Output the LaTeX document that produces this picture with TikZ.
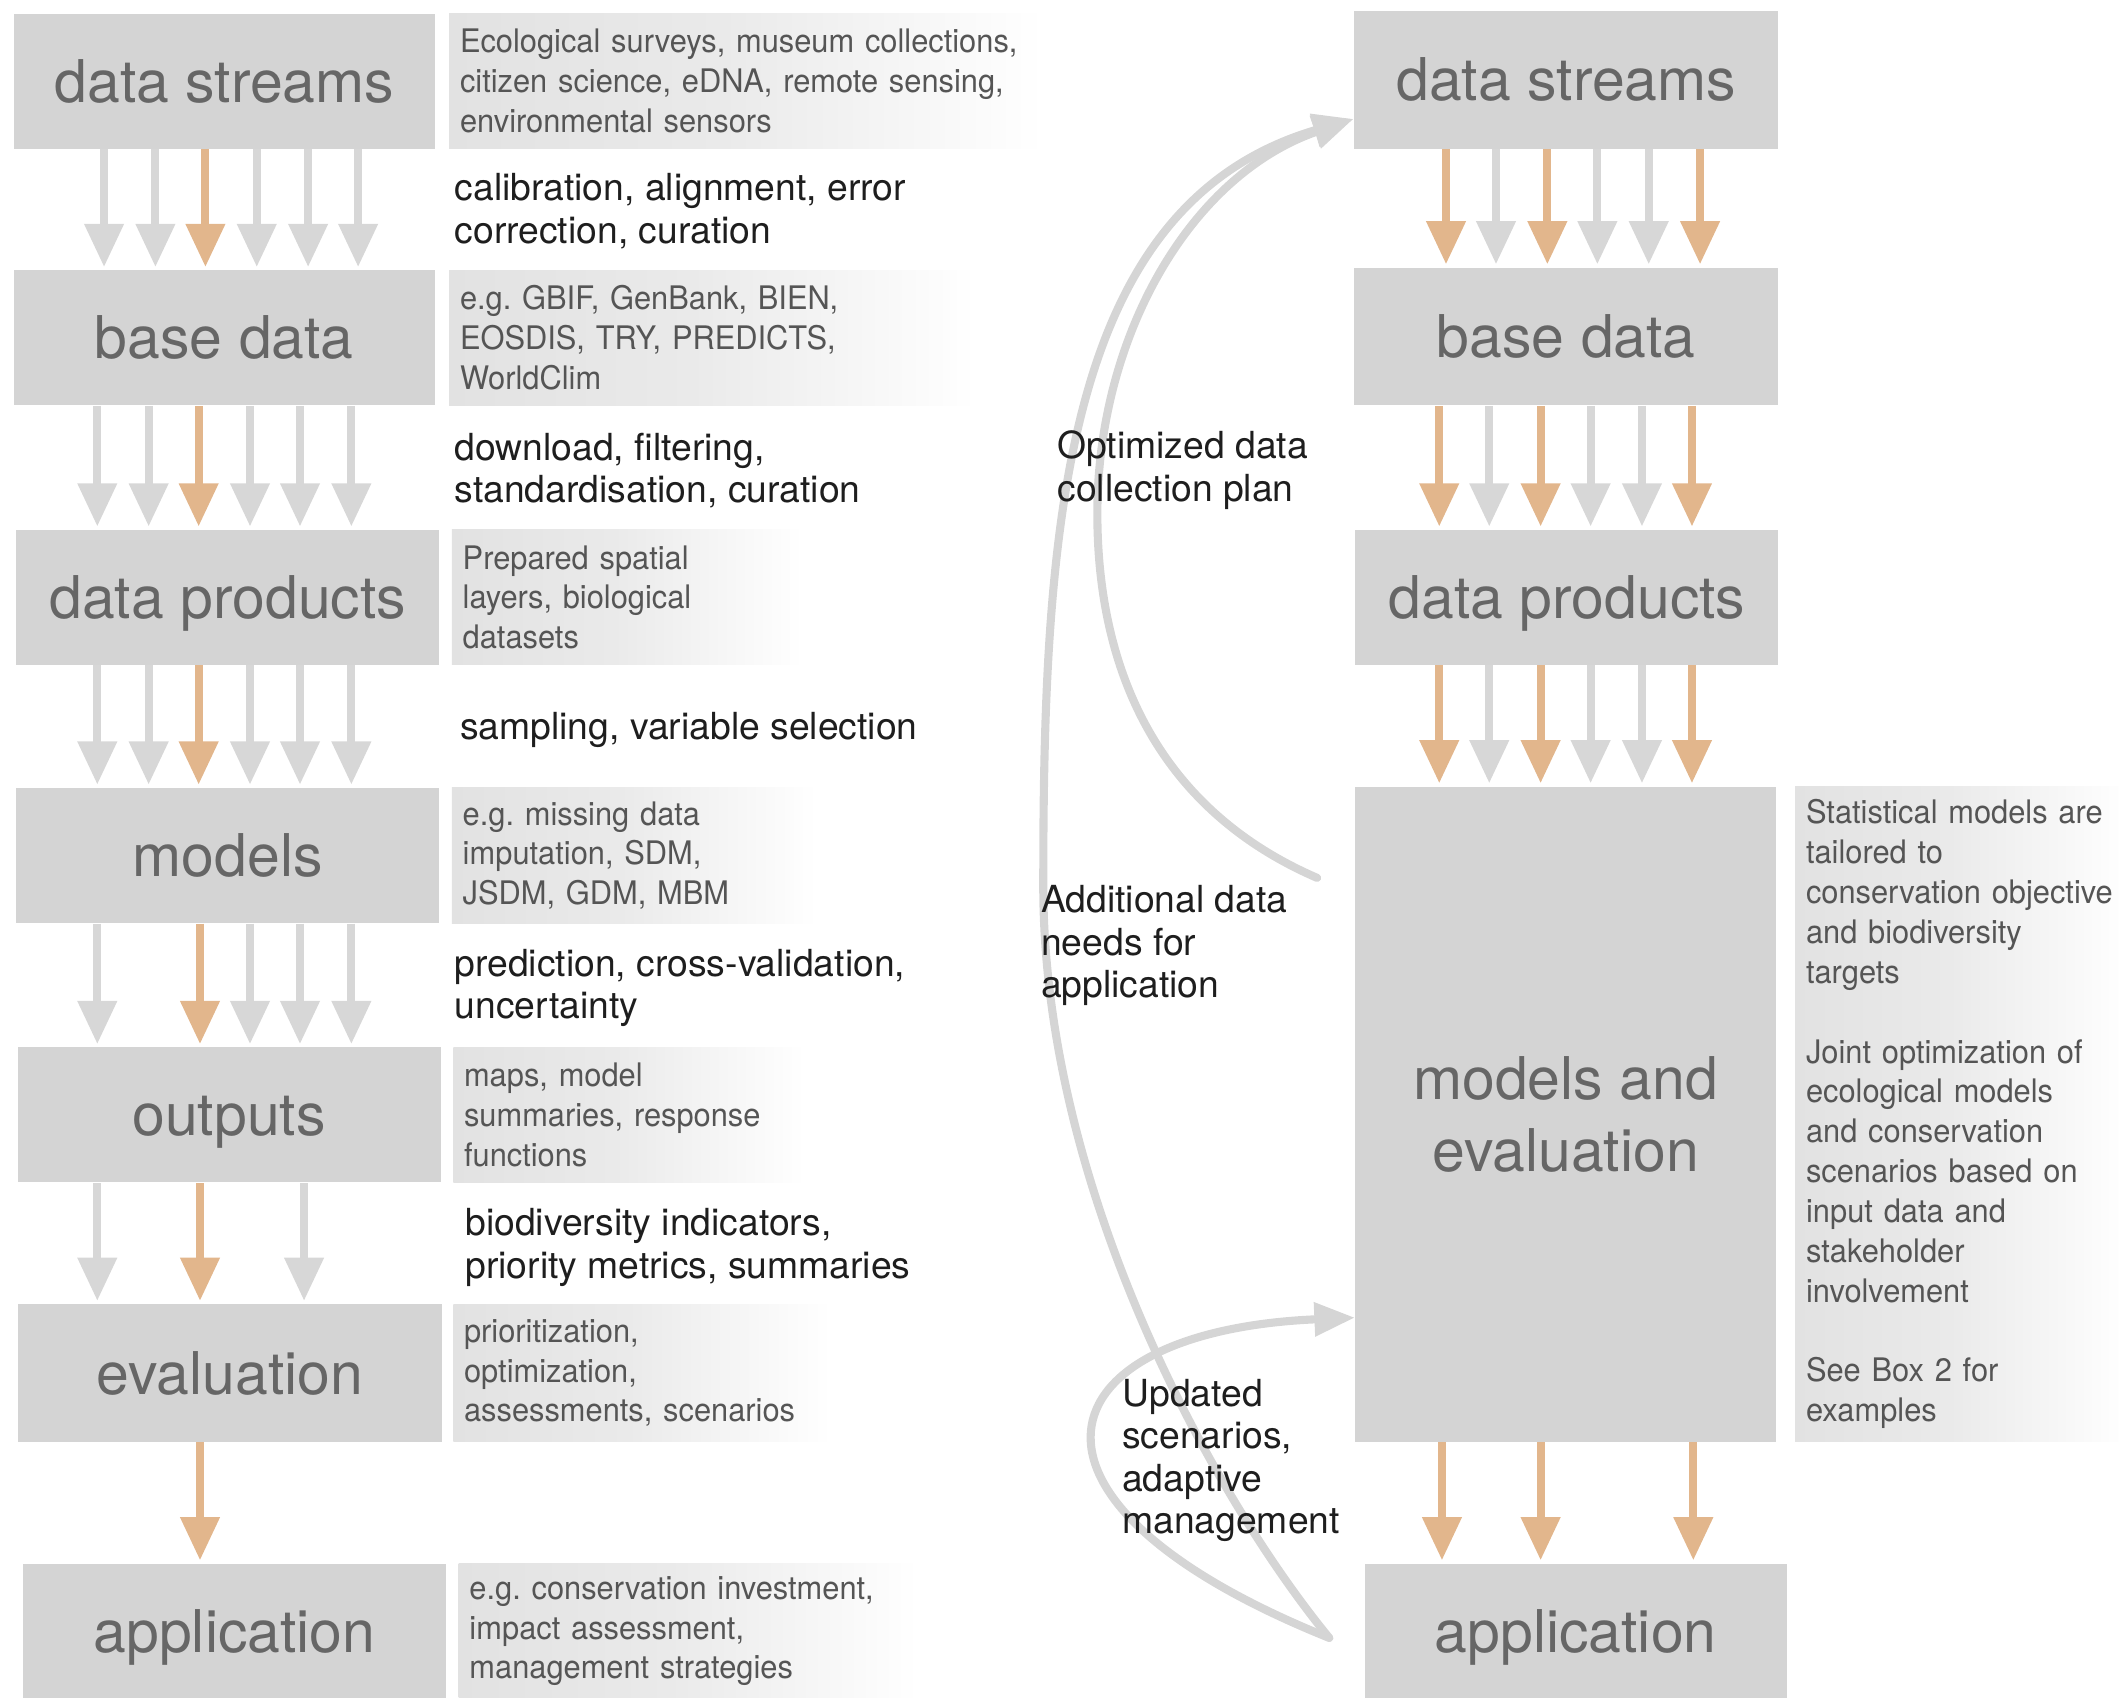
\documentclass[tikz,border=0pt]{standalone}
\usepackage{fontspec}
\setmainfont{TeX Gyre Heros}
\newfontfamily\descfont[FakeStretch=0.95]{TeX Gyre Heros}
\usetikzlibrary{arrows.meta,calc}
\definecolor{boxgray}{HTML}{D4D4D4}
\definecolor{arrgray}{HTML}{D7D7D7}
\definecolor{arrorange}{HTML}{E2B68C}
\definecolor{labelgray}{HTML}{666666}
\definecolor{descgray}{HTML}{555555}
\definecolor{fadeA}{HTML}{E2E2E2}
\definecolor{fadeB}{HTML}{EAEAEA}
\definecolor{curvegray}{HTML}{D5D5D5}
\definecolor{midblack}{HTML}{1E1E1E}
\pgfdeclarehorizontalshading{descfade}{100bp}{color(0bp)=(fadeA); color(25bp)=(fadeA); color(48bp)=(fadeB); color(75bp)=(white); color(100bp)=(white)}
\frenchspacing
\tikzset{
  box/.style={fill=boxgray, draw=none, minimum width=156pt, minimum height=50pt, inner sep=0pt,
    text=labelgray, font=\fontsize{21.8}{26.5}\selectfont},
  lbl/.style={text height=15.6pt, text depth=0pt},
  descbox/.style={shading=descfade, shade, draw=none, anchor=west, minimum height=50pt,
    inner xsep=4pt, inner ysep=2pt, align=left, text=descgray,
    font=\descfont\fontsize{12}{14.75}\selectfont\frenchspacing},
  midtext/.style={anchor=north west, inner sep=0pt, align=left, text=midblack,
    font=\fontsize{13.8}{15.75}\selectfont},
  garrow/.style={draw=arrgray, line width=3pt, shorten >=1pt, -{Triangle[length=16pt,width=14pt]}},
  oarrow/.style={draw=arrorange, line width=3pt, shorten >=1pt, -{Triangle[length=16pt,width=14pt]}},
  feedback/.style={draw=curvegray, line width=3pt, line cap=round, -{Triangle[length=15pt,width=12pt]}},
}
\begin{document}
\begin{tikzpicture}[x=0.5pt,y=-0.5pt]
\useasboundingbox (0,0) rectangle (1568,1256);

% ---------- left column boxes ----------
\node[box,lbl] (ds) at (166,60) {data streams};
\node[box,lbl] (bd) at (166,250) {base data};
\node[box,lbl,minimum width=156.5pt] (dp) at (168.5,442) {data products};
\node[box,lbl,minimum width=156.5pt] (mo) at (168.5,633) {models};
\node[box,lbl,minimum width=156.5pt] (ou) at (169.5,825) {outputs};
\node[box,lbl,minimum width=157pt,minimum height=51pt] (ev) at (170,1016) {evaluation};
\node[box,lbl,minimum width=156.5pt] (ap) at (173.5,1207) {application};

% ---------- left descriptions ----------
\node[descbox,minimum width=220pt,text width=212pt] (dsd) at (332,60)
  {Ecological surveys, museum collections,\\citizen science, eDNA, remote sensing,\\environmental sensors};
\node[descbox,minimum width=195pt,text width=187pt] (bdd) at (332,250)
  {e.g. GBIF, GenBank, BIEN,\\EOSDIS, TRY, PREDICTS,\\WorldClim};
\node[descbox,minimum width=130pt,text width=122pt] (dpd) at (334,442)
  {Prepared spatial\\layers, biological\\datasets};
\node[descbox,minimum width=135pt,text width=127pt] (mod) at (334,633)
  {e.g. missing data\\imputation, SDM,\\JSDM, GDM, MBM};
\node[descbox,minimum width=130pt,text width=122pt] (oud) at (335,825)
  {maps, model\\summaries, response\\functions};
\node[descbox,minimum width=140pt,text width=132pt,minimum height=51pt] (evd) at (335,1016)
  {prioritization,\\optimization,\\assessments, scenarios};
\node[descbox,minimum width=170pt,text width=162pt] (apd) at (339,1207)
  {e.g. conservation investment,\\impact assessment,\\management strategies};

% ---------- left arrows ----------
\foreach \x in {77,115,190,228,265} \draw[garrow] (ds.south -| \x,0) -- (bd.north -| \x,0);
\draw[oarrow] (ds.south -| 152,0) -- (bd.north -| 152,0);
\foreach \x in {72,110,185,222,260} \draw[garrow] (bd.south -| \x,0) -- (dp.north -| \x,0);
\draw[oarrow] (bd.south -| 147,0) -- (dp.north -| 147,0);
\foreach \x in {72,110,185,222,260} \draw[garrow] (dp.south -| \x,0) -- (mo.north -| \x,0);
\draw[oarrow] (dp.south -| 147,0) -- (mo.north -| 147,0);
\foreach \x in {72,185,222,260} \draw[garrow] (mo.south -| \x,0) -- (ou.north -| \x,0);
\draw[oarrow] (mo.south -| 148,0) -- (ou.north -| 148,0);
\foreach \x in {72,225} \draw[garrow] (ou.south -| \x,0) -- (ev.north -| \x,0);
\draw[oarrow] (ou.south -| 148,0) -- (ev.north -| 148,0);
\draw[oarrow] (ev.south -| 148,0) -- (ap.north -| 148,0);

% ---------- transition texts ----------
\node[midtext] (t1) at (336,126) {\strut calibration, alignment, error\\correction, curation};
\node[midtext] (t2) at (336,318) {\strut download, filtering,\\standardisation, curation};
\node[midtext] (t3) at (340,525) {\strut sampling, variable selection};
\node[midtext] (t4) at (336,700) {\strut prediction, cross-validation,\\uncertainty};
\node[midtext] (t5) at (344,892) {\strut biodiversity indicators,\\priority metrics, summaries};

% ---------- right column boxes ----------
\node[box,lbl,minimum width=157pt,minimum height=51pt] (rds) at (1159,59) {data streams};
\node[box,lbl,minimum width=157pt,minimum height=51pt] (rbd) at (1159,249) {base data};
\node[box,lbl,minimum width=156.5pt] (rdp) at (1159.5,442) {data products};
\node[box,minimum width=155.5pt,minimum height=242.5pt,align=center] (rme) at (1158.5,824.5) {models and\\evaluation};
\node[box,lbl] (rap) at (1166,1207) {application};

\node[descbox,minimum width=124pt,text width=116pt,minimum height=242.5pt] (rmd) at (1328,824.5)
  {Statistical models are\\tailored to\\conservation objective\\and biodiversity\\targets\\[14.75pt]
   Joint optimization of\\ecological models\\and conservation\\scenarios based on\\input data and\\stakeholder\\involvement\\[14.75pt]
   See Box 2 for\\examples};

% ---------- right arrows ----------
\foreach \x in {1107,1182,1220} \draw[garrow] (rds.south -| \x,0) -- (rbd.north -| \x,0);
\foreach \x in {1070,1145,1258} \draw[oarrow] (rds.south -| \x,0) -- (rbd.north -| \x,0);
\foreach \x in {1102,1177,1215} \draw[garrow] (rbd.south -| \x,0) -- (rdp.north -| \x,0);
\foreach \x in {1065,1140,1252} \draw[oarrow] (rbd.south -| \x,0) -- (rdp.north -| \x,0);
\foreach \x in {1102,1177,1215} \draw[garrow] (rdp.south -| \x,0) -- (rme.north -| \x,0);
\foreach \x in {1065,1140,1252} \draw[oarrow] (rdp.south -| \x,0) -- (rme.north -| \x,0);
\foreach \x in {1067,1140,1253} \draw[oarrow] (rme.south -| \x,0) -- (rap.north -| \x,0);

% ---------- feedback curves ----------
\coordinate (tipA) at ([yshift=-14.5pt]rds.west);
\coordinate (startA) at ([xshift=-13pt,yshift=-2.5pt]rap.west);
\coordinate (startB) at ([xshift=-14pt,yshift=-34pt]rme.north west);
\coordinate (tipC) at ([yshift=-75.25pt]rme.west);
\draw[feedback] (startA) .. controls (900,1110) and (770,880) .. (772,650)
   .. controls (772,380) and (790,150) .. (tipA);
\draw[feedback] (startB) .. controls (860,600) and (812,500) .. (812,380)
   .. controls (812,250) and (880,130) .. (tipA);
\draw[feedback] (startA) .. controls (730,1110) and (770,985) .. (tipC);

% ---------- feedback labels ----------
\node[midtext] (l1) at (782,317) {\strut Optimized data\\collection plan};
\node[midtext] (l2) at (770,653) {\strut Additional data\\needs for\\application};
\node[midtext] (l3) at (830,1018) {\strut Updated\\scenarios,\\adaptive\\management};
\end{tikzpicture}
\end{document}
